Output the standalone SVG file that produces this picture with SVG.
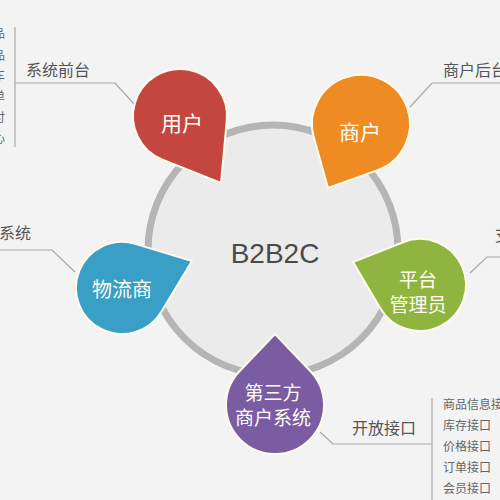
<svg xmlns="http://www.w3.org/2000/svg" width="500" height="500" viewBox="0 0 500 500">
<style>
.lbl{font-family:"Noto Sans CJK SC","Noto Sans",sans-serif;font-size:16px;fill:#555}
.sm{font-family:"Noto Sans CJK SC","Noto Sans",sans-serif;font-size:12px;fill:#666}
.dt{font-family:"Noto Sans CJK SC","Noto Sans",sans-serif;fill:#fffdf5;text-anchor:middle;dominant-baseline:central}
.drop{stroke:#fffbea;stroke-width:2}
.ln{fill:none;stroke:#a8a8a8;stroke-width:1.2}
</style>
<rect width="500" height="500" fill="#f3f3f3"/>
<g id="hub">
<circle cx="273" cy="250" r="125" fill="#ebebeb" stroke="#b5b5b5" stroke-width="7"/>
<text x="275" y="263" text-anchor="middle" font-family="Liberation Sans, Arial, sans-serif" font-size="28" fill="#4a4a4a">B2B2C</text>
</g>
<g id="connectors">
<path class="ln" d="M15,27 V147"/>
<path class="ln" d="M15,83 H115 L135,105"/>
<path class="ln" d="M500,83 H432 L410,107"/>
<path class="ln" d="M0,250 H52 L75,272"/>
<path class="ln" d="M470,273 L487,257 H500"/>
<path class="ln" d="M320,432 L333,444 H432"/>
<path class="ln" d="M432,398 V500"/>
</g>
<g id="labels">
<text class="lbl" x="26" y="76">系统前台</text>
<text class="sm" x="5" y="38" text-anchor="end">热门商品</text>
<text class="sm" x="5" y="60" text-anchor="end">推荐商品</text>
<text class="sm" x="5" y="80" text-anchor="end">购物车</text>
<text class="sm" x="5" y="101" text-anchor="end">订单</text>
<text class="sm" x="5" y="122" text-anchor="end">支付</text>
<text class="sm" x="5" y="143" text-anchor="end">会员中心</text>
<text class="lbl" x="443" y="76">商户后台</text>
<text class="lbl" x="31" y="239" text-anchor="end">物流系统</text>
<text class="lbl" x="495" y="241">支付系统</text>
<text class="lbl" x="352" y="434">开放接口</text>
<text class="sm" x="443" y="409">商品信息接口</text>
<text class="sm" x="443" y="430">库存接口</text>
<text class="sm" x="443" y="451">价格接口</text>
<text class="sm" x="443" y="472">订单接口</text>
<text class="sm" x="443" y="493">会员接口</text>
</g>
<g id="node-user">
<path class="drop" fill="#c4473f" d="M221,183 L162.6,159.7 A47,47 0 1,1 226.8,120.4 Z"/>
<text class="dt" x="182" y="122" font-size="21">用户</text>
</g>
<g id="node-merchant">
<path class="drop" fill="#ee8b22" d="M328,188 L313.8,137.2 A49,49 0 1,1 377.6,170.1 Z"/>
<text class="dt" x="360" y="131" font-size="21">商户</text>
</g>
<g id="node-logistics">
<path class="drop" fill="#3a9fc6" d="M192,261 L161.4,311.7 A46,46 0 1,1 135.2,243.9 Z"/>
<text class="dt" x="122" y="288" font-size="20">物流商</text>
</g>
<g id="node-platform">
<path class="drop" fill="#8fb43f" d="M353,262 L403.1,242.2 A46,46 0 1,1 380.4,308.4 Z"/>
<text class="dt" x="418" y="278" font-size="19">平台</text>
<text class="dt" x="418" y="303" font-size="19">管理员</text>
</g>
<g id="node-thirdparty">
<path class="drop" fill="#7a5ca3" d="M275,334 L310.5,371.2 A49,49 0 1,1 239.5,371.2 Z"/>
<text class="dt" x="273" y="391" font-size="19">第三方</text>
<text class="dt" x="273" y="416" font-size="19">商户系统</text>
</g>
</svg>
